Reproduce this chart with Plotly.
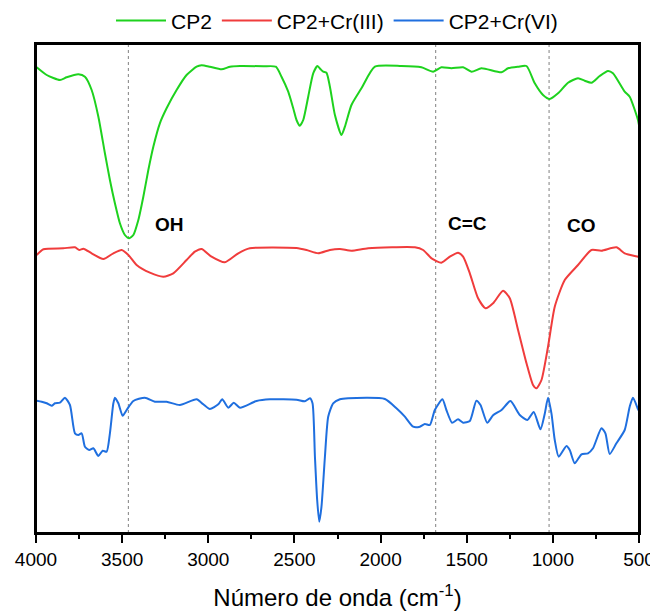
import plotly.graph_objects as go

# Wavenumbers (cm-1) and offset transmittance (arbitrary units)
cp2_x = [3996, 3938, 3861, 3822, 3754, 3716, 3677, 3638, 3600, 3571, 3542, 3513, 3484, 3459, 3435, 3406,
         3377, 3348, 3319, 3281, 3242, 3184, 3126, 3068, 3039, 2991, 2923, 2874, 2816, 2681, 2608, 2575,
         2536, 2507, 2488, 2469, 2449, 2420, 2391, 2366, 2348, 2333, 2314, 2294, 2265, 2227, 2207, 2169,
         2111, 2033, 1879, 1763, 1695, 1647, 1589, 1521, 1472, 1414, 1298, 1260, 1202, 1153, 1105, 1057,
         1018, 970, 912, 854, 815, 776, 728, 680, 651, 583, 554, 506, 500]
cp2_y = [465.7, 458, 453, 455.7, 458.7, 456.3, 443, 416.3, 379.7, 353, 329.7, 309.7, 298, 294.7, 298, 313,
         336.3, 363, 386.3, 409.7, 424.7, 443, 458, 466.3, 467.7, 466.3, 463.7, 466.3, 467, 466.7, 466.3, 456.3,
         441.3, 424.7, 413, 407.3, 413, 436.3, 459.7, 467, 463.7, 461.3, 460.3, 446.3, 418, 398, 406.3, 428,
         444.7, 466.3, 467, 465.7, 461.3, 465.7, 464.7, 465.7, 461.3, 464.7, 460.7, 464.7, 466.3, 467, 449.7, 438,
         434, 439.7, 450.3, 454.7, 452.3, 450.3, 457, 462, 459.7, 441.3, 436.3, 413, 408]

cr3_x = [3996, 3957, 3841, 3774, 3749, 3725, 3677, 3609, 3551, 3503, 3464, 3416, 3339, 3261, 3203, 3126,
         3078, 3039, 2981, 2904, 2826, 2759, 2488, 2430, 2362, 2294, 2236, 2169, 2072, 1801, 1753, 1704,
         1647, 1598, 1550, 1521, 1482, 1434, 1391, 1347, 1289, 1250, 1202, 1153, 1115, 1095, 1066, 1028,
         989, 931, 854, 776, 718, 631, 583, 506, 500]
cr3_y = [278, 283.7, 284.7, 285.7, 283, 284.3, 279.7, 274, 279.7, 283, 278, 268, 260.3, 256.3, 259.7, 273,
         281.3, 284, 276.3, 270.7, 279.7, 284.7, 285, 283, 279.7, 283, 284, 282.3, 284.7, 285.7, 283, 274.7,
         270.3, 276.3, 280.3, 276.3, 259.7, 234.7, 224.7, 229.7, 242.3, 234.7, 203, 169.7, 148, 144.7, 153, 186.3,
         226.3, 253, 268, 283, 282.3, 285.7, 279.7, 276.3, 276]

cr6_x = [3996, 3967, 3938, 3909, 3890, 3861, 3832, 3803, 3774, 3754, 3735, 3716, 3691, 3667, 3638, 3613,
         3590, 3571, 3551, 3542, 3522, 3497, 3474, 3435, 3368, 3310, 3242, 3165, 3068, 3029, 2991, 2942,
         2919, 2884, 2852, 2816, 2720, 2642, 2488, 2440, 2410, 2395, 2381, 2368, 2356, 2343, 2323, 2304,
         2275, 2236, 2188, 1975, 1908, 1859, 1811, 1772, 1743, 1714, 1685, 1641, 1618, 1585, 1550, 1521,
         1482, 1444, 1420, 1381, 1347, 1298, 1246, 1192, 1148, 1111, 1072, 1047, 1028, 1008, 989, 966,
         921, 902, 873, 834, 796, 767, 718, 695, 670, 631, 583, 554, 535, 506, 500]
cr6_y = [132.3, 131.3, 129.7, 127.3, 129.7, 130.3, 135.3, 128, 99.7, 98, 99.7, 86.3, 83, 84.7, 77, 82.3,
         81.3, 99.7, 129.7, 135.3, 129.7, 117.3, 123, 132, 135.3, 131.3, 131.3, 128, 133.7, 128.7, 124, 128.7,
         133.7, 125.3, 130.3, 125.3, 132, 133.7, 133.3, 131.7, 134.7, 129.7, 76.3, 33, 11.3, 26.3, 76.3, 116.3,
         129.7, 133.7, 134.7, 134, 124.7, 116.3, 106.3, 106.3, 109, 108, 123, 133.7, 123, 110.3, 113.7, 110.3,
         112, 132.3, 128, 110.3, 117.7, 123, 132, 118, 113, 121, 103.7, 119.3, 135.3, 119.3, 93, 76.3,
         87, 83, 69.7, 78.7, 79.7, 84.7, 104.7, 99.7, 79, 89.7, 103, 126.3, 135.3, 124, 122]

series_names = ["CP2", "CP2+Cr(III)", "CP2+Cr(VI)"]
series_colors = ["#1ed21e", "#f03c3c", "#1f6fdf"]

band_positions = [3464, 1680, 1022]
band_labels = ["OH", "C=C", "CO"]
band_label_x = [3228, 1498, 831]
band_label_y = [309, 310, 308]

tick_vals = [4000, 3500, 3000, 2500, 2000, 1500, 1000, 500]

FONT = "Liberation Sans, Arial, sans-serif"

fig = go.Figure()
for xs, ys, name, col in zip([cp2_x, cr3_x, cr6_x], [cp2_y, cr3_y, cr6_y], series_names, series_colors):
    fig.add_trace(go.Scatter(x=xs, y=ys, mode="lines", name=name,
                             line=dict(color=col, width=2, shape="spline", smoothing=0.6)))

for bx in band_positions:
    fig.add_shape(type="line", x0=bx, x1=bx, xref="x", y0=0, y1=1, yref="paper",
                  line=dict(color="#808080", width=1, dash="3px,3px"), layer="below")

# plot frame
fig.add_shape(type="rect", x0=0, x1=1, y0=0, y1=1, xref="paper", yref="paper",
              line=dict(color="black", width=2), layer="above")

for lx, ly, lt in zip(band_label_x, band_label_y, band_labels):
    fig.add_annotation(x=lx, y=ly, text="<b>%s</b>" % lt, showarrow=False,
                       font=dict(family=FONT, size=19, color="black"))

fig.update_layout(
    width=658, height=614,
    margin=dict(l=28, r=27, t=36, b=89, autoexpand=False),
    paper_bgcolor="white", plot_bgcolor="white",
    font=dict(family=FONT, color="black"),
    showlegend=True,
    legend=dict(orientation="h", x=0.5, xanchor="center", xref="container",
                y=0.979, yanchor="middle", yref="container",
                font=dict(size=21), traceorder="normal", itemwidth=50,
                bgcolor="rgba(0,0,0,0)"),
    xaxis=dict(range=[4000, 500], tickvals=tick_vals, ticks="outside", ticklen=8, tickwidth=1.5,
               tickcolor="black", showline=True, linecolor="black", linewidth=2, mirror=True,
               showgrid=False, zeroline=False, tickfont=dict(size=19), automargin=False,
               minor=dict(dtick=250, ticks="outside", ticklen=4, tickwidth=1.5, tickcolor="black"),
               title=dict(text="Número de onda (cm<sup>-1</sup>)", font=dict(size=24), standoff=20)),
    yaxis=dict(range=[0, 489], showticklabels=False, ticks="", showline=True, linecolor="black",
               linewidth=2, mirror=True, showgrid=False, zeroline=False, automargin=False),
)

fig.write_html("out.html")
